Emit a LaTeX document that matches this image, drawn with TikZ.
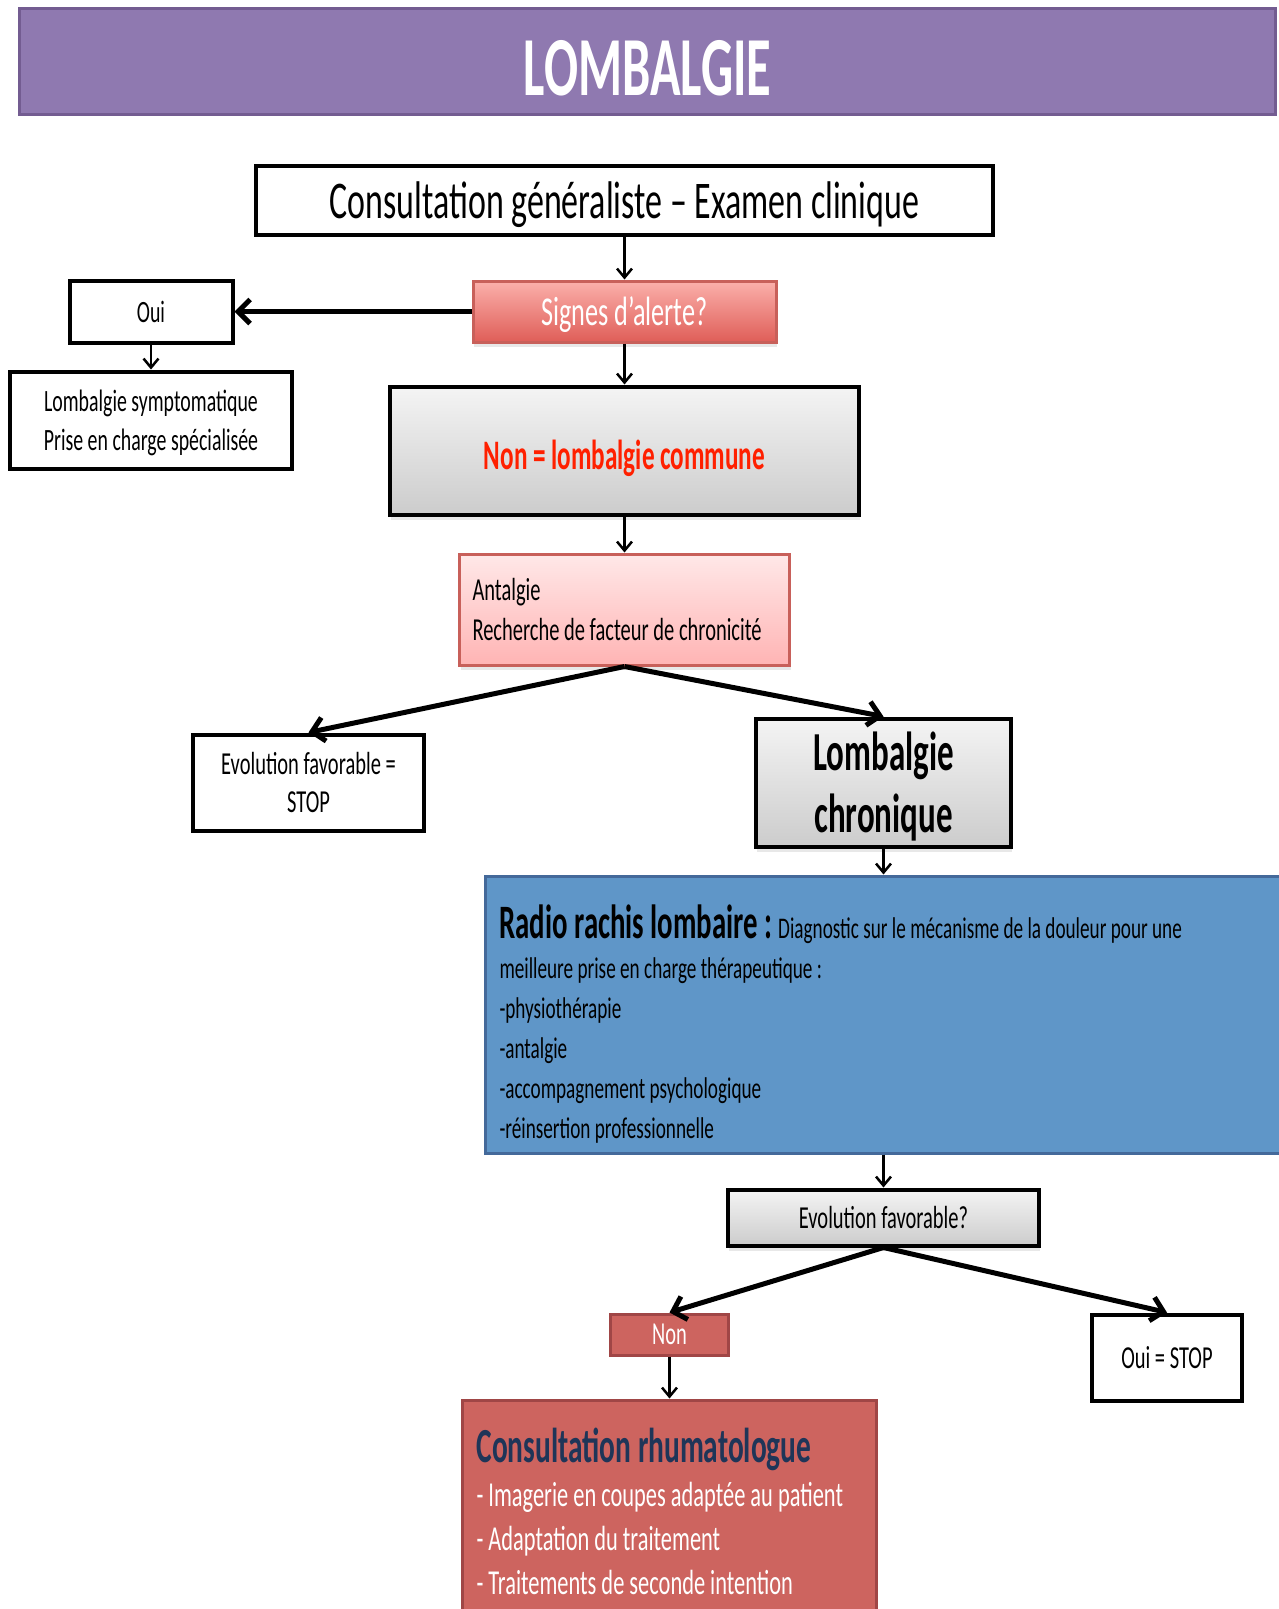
\documentclass[tikz,border=0pt]{standalone}
\usepackage{fontspec}
\setmainfont{Carlito}[FakeStretch=0.64, BoldFeatures={FakeStretch=0.6}]
\usetikzlibrary{arrows.meta, positioning, shadows}
\definecolor{bandfill}{HTML}{8F79B0}
\definecolor{bandline}{HTML}{735C91}
\definecolor{greytop}{HTML}{F4F4F4}
\definecolor{greybot}{HTML}{CCCCCC}
\definecolor{alerttop}{HTML}{FBB0AB}
\definecolor{alertbot}{HTML}{DF5E58}
\definecolor{alertline}{HTML}{C8605A}
\definecolor{pinktop}{HTML}{FFE8E8}
\definecolor{pinkbot}{HTML}{FFB4B4}
\definecolor{bluefill}{HTML}{5F96C8}
\definecolor{blueline}{HTML}{44699A}
\definecolor{redfill}{HTML}{CD645F}
\definecolor{redline}{HTML}{A04646}
\definecolor{warnred}{HTML}{FF2000}
\definecolor{navy}{HTML}{1F3558}
\newcommand{\setfs}[2]{\fontsize{#1}{#2}\selectfont}
\tikzset{
        >={Straight Barb[length=9pt,width=15pt]}, % open arrow heads
        soft shadow/.style={drop shadow={opacity=0.18, shadow xshift=1pt, shadow yshift=-5pt}}, % light shadow under some boxes
        box/.style={draw=black, line width=4pt, fill=white, inner sep=0pt, align=center, text depth=0pt}, % plain black frame
        greybox/.style={box, soft shadow, top color=greytop, bottom color=greybot}, % grey gradient
        alertbox/.style={draw=alertline, line width=3pt, soft shadow, top color=alerttop, bottom color=alertbot, inner sep=0pt, text depth=0pt},
        pinkbox/.style={draw=alertline, line width=3pt, soft shadow, top color=pinktop, bottom color=pinkbot, inner xsep=13pt, align=flush left},
        bluebox/.style={draw=blueline, line width=3pt, fill=bluefill, inner xsep=14pt, align=flush left},
        redbox/.style={draw=redline, line width=3pt, fill=redfill, inner sep=0pt, text=white},
        arr/.style={line width=2.5pt}, % small vertical arrows
        bigarr/.style={line width=5pt}, % branch arrows
        bigtip/.style={-{Straight Barb[length=12pt,width=24pt]}},
    }

\begin{document}
\begin{tikzpicture}[x=1pt, y=-1pt]
    \useasboundingbox (0,0) rectangle (1279,1609);
    % title
    \node[draw=bandline, line width=3pt, fill=bandfill, minimum width=1256pt, minimum height=106pt,
          text=white, font=\bfseries\setfs{84}{84}, text height=68pt, text depth=0pt] (title) at (647.5,61.5) {LOMBALGIE};

    \node[box, minimum width=737pt, minimum height=69pt, font=\setfs{53}{60}] (consult) at (624.5,200) {Consultation généraliste – Examen clinique};
    \node[alertbox, below=43pt of consult, minimum width=303pt, minimum height=61pt, text=white, font=\setfs{41}{41}] (alerte) {Signes d’alerte?};
    \node[box, left=237pt of alerte, minimum width=163pt, minimum height=62pt, font=\setfs{31}{31}] (oui) {Oui};
    \node[box, below=25pt of oui, minimum width=282pt, minimum height=97pt, font=\setfs{31}{39}] (sympto) {Lombalgie symptomatique\\Prise en charge spécialisée};
    \node[greybox, below=41pt of alerte, minimum width=469pt, minimum height=128pt, text height=37pt, text=warnred, font=\bfseries\setfs{42}{42}] (commune) {Non = lombalgie commune};
    \node[pinkbox, below=36pt of commune, text width=304pt, minimum height=111pt, font=\setfs{32}{40}] (antalgie) {Antalgie\\Recherche de facteur de chronicité};
    \node[box, below left=66pt and 32pt of antalgie, minimum width=231pt, minimum height=96pt, font=\setfs{32}{38}] (evostop) {Evolution favorable =\\STOP};
    \node[greybox, below=50pt of antalgie, xshift=259pt, minimum width=255pt, minimum height=128pt, font=\bfseries\setfs{55}{62}] (chronique) {Lombalgie\\chronique};
    \node[bluebox, below=26pt of chronique, text width=768pt, minimum height=277pt, font=\setfs{30}{40}] (radio)
        {\rule{0pt}{52pt}{\bfseries\setfs{48}{40}Radio rachis lombaire :} Diagnostic sur le mécanisme de la douleur pour une\\
         meilleure prise en charge thérapeutique :\\-physiothérapie\\-antalgie\\-accompagnement psychologique\\-réinsertion professionnelle};
    \node[greybox, below=33pt of radio, minimum width=311pt, minimum height=56pt, font=\setfs{32}{32}] (evofav) {Evolution favorable?};
    \node[redbox, below=65pt of evofav, xshift=-214pt, minimum width=118pt, minimum height=41pt, text depth=0pt, font=\setfs{32}{32}] (non) {Non};
    \node[box, below=65pt of evofav, xshift=283.5pt, minimum width=150pt, minimum height=86pt, font=\setfs{32}{32}] (ouistop) {Oui = STOP};
    \node[redbox, below=42pt of non, inner xsep=14pt, align=flush left, text width=386pt, minimum height=222pt, font=\setfs{35}{44}] (rhumato)
        {{\bfseries\color{navy}\setfs{49}{44}Consultation rhumatologue}\\- Imagerie en coupes adaptée au patient\\- Adaptation du traitement\\- Traitements de seconde intention};

    \draw[arr]
      (consult) edge[->] (alerte)
      (oui) edge[->] (sympto)
      (alerte) edge[->] (commune)
      (commune) edge[->] (antalgie)
      (chronique) edge[->] (chronique.south |- radio.north)
      (evofav.north |- radio.south) edge[->] (evofav)
      (non) edge[->] (rhumato);
    \draw[bigarr]
      (alerte) edge[bigtip] (oui)
      (antalgie.south) edge[bigtip] (evostop.north)
      (antalgie.south) edge[bigtip] (chronique.north)
      (evofav.south) edge[bigtip] (non.north)
      (evofav.south) edge[bigtip] (ouistop.north);
\end{tikzpicture}
\end{document}
